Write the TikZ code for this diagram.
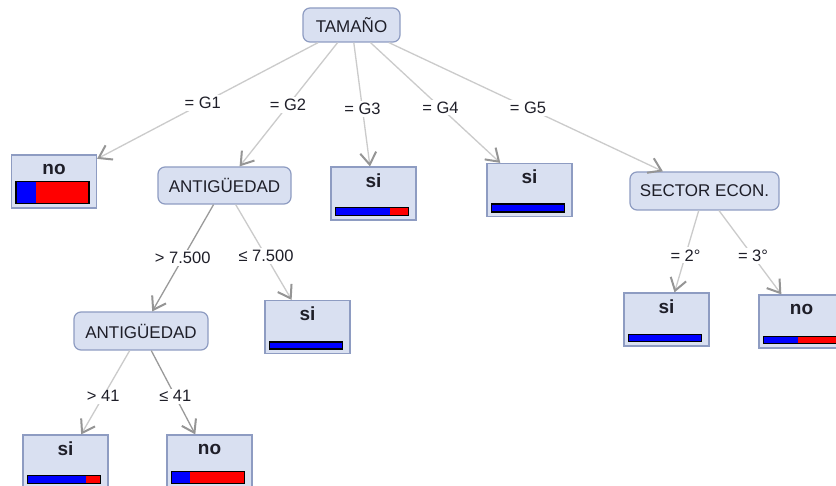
\documentclass[tikz,border=0pt]{standalone}
\usepackage{fontspec}
\setmainfont{Liberation Sans}
\usetikzlibrary{arrows.meta,calc}
\definecolor{boxfill}{HTML}{D9E0F1}
\definecolor{boxline}{HTML}{8E9CC2}
\definecolor{edgelight}{HTML}{CBCBCB}
\definecolor{edgedark}{HTML}{9A9A9A}
\definecolor{arrowgray}{HTML}{959595}
\definecolor{txt}{HTML}{1E1E28}
\definecolor{barblue}{HTML}{0000FF}
\definecolor{barred}{HTML}{FF0000}
\tikzset{
  attr/.style={draw=boxline, fill=boxfill, rounded corners=7pt, line width=1.2pt, inner sep=0pt,
    font=\fontsize{17}{20}\selectfont, text=txt},
  leaf/.style={draw=boxline, fill=boxfill, line width=1.2pt, minimum width=85pt, minimum height=53pt, inner sep=0pt},
  ttl/.style={font=\bfseries\fontsize{19}{22}\selectfont, text=txt, anchor=base},
  edgelbl/.style={fill=white, inner sep=2pt, font=\fontsize{16.5}{20}\selectfont, text=txt},
  conn/.style={draw=edgelight, line width=1.3pt,
    -{Straight Barb[length=12pt, width=16pt, color=arrowgray, line width=2pt]}},
  conndark/.style={conn, draw=edgedark}
}
\newcommand\leafbar[3]{%
  \fill[barred] ([xshift=5pt,yshift=5pt]#1.south west) rectangle ([xshift=78pt,yshift={5pt+#3pt}]#1.south west);
  \fill[barblue] ([xshift=5pt,yshift=5pt]#1.south west) rectangle ([xshift={5pt+#2pt},yshift={5pt+#3pt}]#1.south west);
  \draw[black, line width=1.3pt] ([xshift=5pt,yshift=5pt]#1.south west) rectangle ([xshift=78pt,yshift={5pt+#3pt}]#1.south west);
}
\begin{document}
\begin{tikzpicture}[x=1pt,y=-1pt]
\useasboundingbox (0,0) rectangle (836,486);
\clip (0,0) rectangle (836,486);
\fill[white] (0,0) rectangle (836,486);

% attribute nodes
\node[attr, minimum width=97pt, minimum height=34pt] (root) at (351.5,25) {TAMAÑO};
\node[attr, minimum width=133pt, minimum height=37pt] (ant1) at (224.5,185.5) {ANTIGÜEDAD};
\node[attr, minimum width=134pt, minimum height=38pt] (ant2) at (141,331) {ANTIGÜEDAD};
\node[attr, minimum width=149pt, minimum height=38pt] (sec) at (704.5,191) {SECTOR ECON.};

% leaves
\node[leaf] (l1) at (54,181.5) {};
\node[leaf] (l2) at (373.5,193.5) {};
\node[leaf] (l3) at (529.5,190) {};
\node[leaf] (l4) at (307.5,327) {};
\node[leaf] (l5) at (65.5,461.5) {};
\node[leaf] (l6) at (209.5,461.5) {};
\node[leaf] (l7) at (666.5,319.5) {};
\node[leaf] (l8) at (801.5,321.5) {};

\node[ttl] at ([yshift=-20pt]l1.north) {no};
\node[ttl] at ([yshift=-21pt]l2.north) {si};
\node[ttl] at ([yshift=-21pt]l3.north) {si};
\node[ttl] at ([yshift=-21pt]l4.north) {si};
\node[ttl] at ([yshift=-21pt]l5.north) {si};
\node[ttl] at ([yshift=-20pt]l6.north) {no};
\node[ttl] at ([yshift=-21pt]l7.north) {si};
\node[ttl] at ([yshift=-20pt]l8.north) {no};

\leafbar{l1}{20}{22}
\leafbar{l2}{55}{8}
\leafbar{l3}{73}{8}
\leafbar{l4}{73}{7}
\leafbar{l5}{59}{8}
\leafbar{l6}{19}{12}
\leafbar{l7}{73}{7}
\leafbar{l8}{35}{7}

% connectors
\draw[conn] (root) -- (l1);
\draw[conn] (root) -- (ant1);
\draw[conn] (root) -- (l2);
\draw[conn] (root) -- (l3);
\draw[conn] (root) -- (sec);
\draw[conndark] (ant1) -- (ant2);
\draw[conn] (ant1) -- (l4);
\draw[conn] (ant2) -- (l5);
\draw[conndark] (ant2) -- (l6);
\draw[conn] (sec) -- (l7);
\draw[conn] (sec) -- (l8);

% edge labels
\node[edgelbl] at ($(root)!0.5!(l1)$) {= G1};
\node[edgelbl] at ($(root)!0.5!(ant1)$) {= G2};
\node[edgelbl] at ($(root)!0.5!(l2)$) {= G3};
\node[edgelbl] at ($(root)!0.5!(l3)$) {= G4};
\node[edgelbl] at ($(root)!0.5!(sec)$) {= G5};
\node[edgelbl] at ($(ant1)!0.5!(ant2)$) {> 7.500};
\node[edgelbl] at ($(ant1)!0.5!(l4)$) {≤ 7.500};
\node[edgelbl] at ($(ant2)!0.5!(l5)$) {> 41};
\node[edgelbl] at ($(ant2)!0.5!(l6)$) {≤ 41};
\node[edgelbl] at ($(sec)!0.5!(l7)$) {= 2°};
\node[edgelbl] at ($(sec)!0.5!(l8)$) {= 3°};
\end{tikzpicture}
\end{document}
